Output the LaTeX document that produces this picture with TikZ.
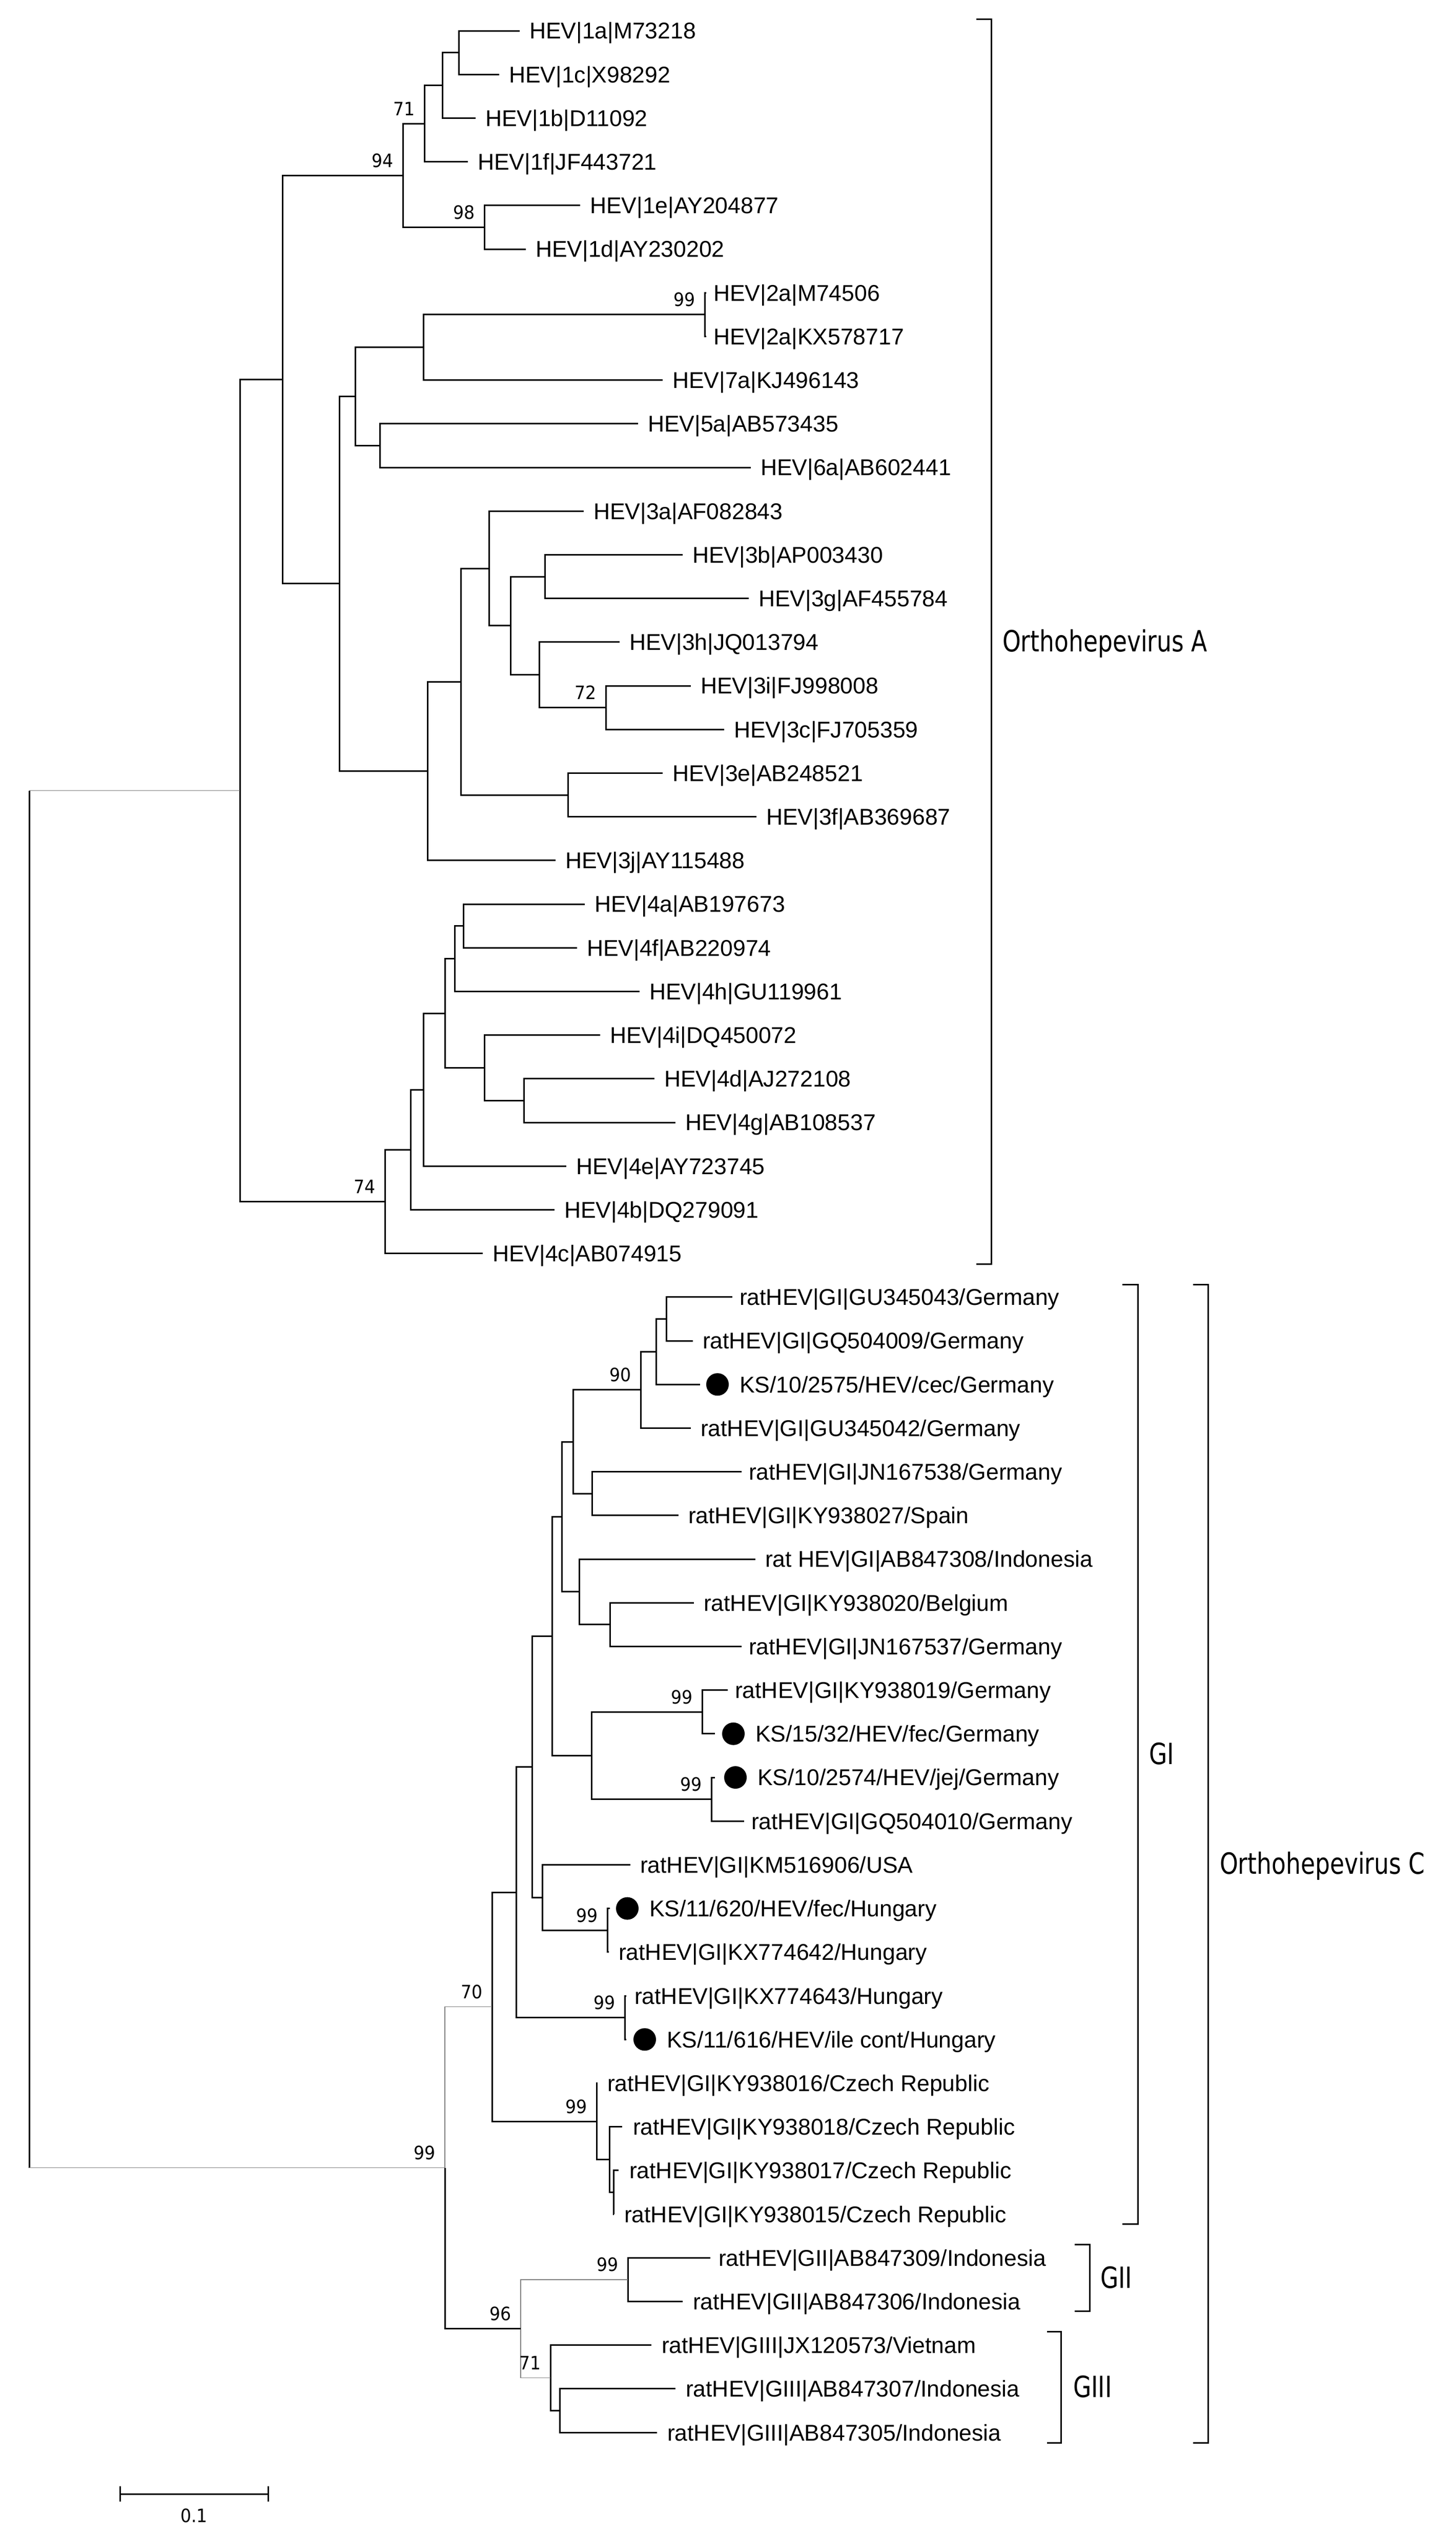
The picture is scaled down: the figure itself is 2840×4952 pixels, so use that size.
\documentclass[tikz,border=0pt]{standalone}
\usepackage{fontspec}
\setmainfont{Liberation Sans}
\newfontfamily\grpfont{DejaVu Sans}[FakeStretch=0.8]
\newfontfamily\bootfont{DejaVu Sans}[FakeStretch=0.92]
\usetikzlibrary{calc,positioning}

% one clade: name, x of the node, upper child, lower child
\newcommand{\clade}[4]{%
  \coordinate (#1mid) at ($(#3)!.5!(#4)$);
  \coordinate (#1) at (#2,0 |- #1mid);
  \draw[treebranch] (#3) -| (#1) |- (#4);}

\begin{document}
\begin{tikzpicture}[x=0.1pt,y=-0.1pt,
    treebranch/.style={line width=0.3pt,black},
    greybranch/.style={line width=0.16pt,black!50},
    leaf/.style={inner sep=0pt,font=\fontsize{4.45}{5}\selectfont,text height=3.19pt,text depth=0pt},
    sampledot/.style={circle,fill=black,inner sep=0pt,minimum size=4.4pt},
    bootlabel/.style={anchor=south east,inner sep=0pt,font=\bootfont\fontsize{3.6}{4}\selectfont,text height=2.62pt,text depth=0pt},
    grouplabel/.style={anchor=west,inner sep=0pt,font=\grpfont\fontsize{5.7}{6}\selectfont,text height=4.16pt,text depth=0pt}]
    \fill[white] (0,0) rectangle (2840,4952);
    \useasboundingbox (0,0) rectangle (2840,4952);

    % Orthohepevirus A tips
    \coordinate (tM73218) at (1014,60);
    \coordinate (tX98292) at (974,145.2);
    \coordinate (tD11092) at (928,230.4);
    \coordinate (tJF443721) at (913,315.6);
    \coordinate (tAY204877) at (1132,400.8);
    \coordinate (tAY230202) at (1026,486);
    \coordinate (tM74506) at (1378,571.2);
    \coordinate (tKX578717) at (1378,656.4);
    \coordinate (tKJ496143) at (1293,741.6);
    \coordinate (tAB573435) at (1245,826.8);
    \coordinate (tAB602441) at (1465,912);
    \coordinate (tAF082843) at (1139,997.2);
    \coordinate (tAP003430) at (1332,1082.4);
    \coordinate (tAF455784) at (1461,1167.6);
    \coordinate (tJQ013794) at (1209,1252.8);
    \coordinate (tFJ998008) at (1348,1338);
    \coordinate (tFJ705359) at (1413,1423.2);
    \coordinate (tAB248521) at (1293,1508.4);
    \coordinate (tAB369687) at (1476,1593.6);
    \coordinate (tAY115488) at (1084,1678.8);
    \coordinate (tAB197673) at (1141,1764);
    \coordinate (tAB220974) at (1126,1849.2);
    \coordinate (tGU119961) at (1248,1934.4);
    \coordinate (tDQ450072) at (1171,2019.6);
    \coordinate (tAJ272108) at (1277,2104.8);
    \coordinate (tAB108537) at (1318,2190);
    \coordinate (tAY723745) at (1105,2275.2);
    \coordinate (tDQ279091) at (1082,2360.4);
    \coordinate (tAB074915) at (942,2445.6);

    % Orthohepevirus C tips
    \coordinate (tGU345043) at (1429,2530.8);
    \coordinate (tGQ504009) at (1352,2616);
    \coordinate (tKS2575) at (1366,2701.2);
    \coordinate (tGU345042) at (1348,2786.4);
    \coordinate (tJN167538) at (1447,2871.6);
    \coordinate (tKY938027) at (1324,2956.8);
    \coordinate (tAB847308) at (1474,3042);
    \coordinate (tKY938020) at (1354,3127.2);
    \coordinate (tJN167537) at (1447,3212.4);
    \coordinate (tKY938019) at (1420,3297.6);
    \coordinate (tKS1532) at (1395,3382.8);
    \coordinate (tKS2574) at (1395,3468);
    \coordinate (tGQ504010) at (1452,3553.2);
    \coordinate (tKM516906) at (1230,3638.4);
    \coordinate (tKS620) at (1190,3723.6);
    \coordinate (tKX774642) at (1188,3808.8);
    \coordinate (tKX774643) at (1222,3894);
    \coordinate (tKS616) at (1222,3979.2);
    \coordinate (tKY938016) at (1166,4064.4);
    \coordinate (tKY938018) at (1214,4149.6);
    \coordinate (tKY938017) at (1207,4234.8);
    \coordinate (tKY938015) at (1198,4320);
    \coordinate (tAB847309) at (1386,4405.2);
    \coordinate (tAB847306) at (1332,4490.4);
    \coordinate (tJX120573) at (1271,4575.6);
    \coordinate (tAB847307) at (1318,4660.8);
    \coordinate (tAB847305) at (1282,4746);

    % Labels
    \node (M73218) [leaf,right=1.7pt of tM73218] {HEV|1a|M73218};
    \node (X98292) [leaf,right=1.7pt of tX98292] {HEV|1c|X98292};
    \node (D11092) [leaf,right=1.7pt of tD11092] {HEV|1b|D11092};
    \node (JF443721) [leaf,right=1.7pt of tJF443721] {HEV|1f|JF443721};
    \node (AY204877) [leaf,right=1.7pt of tAY204877] {HEV|1e|AY204877};
    \node (AY230202) [leaf,right=1.7pt of tAY230202] {HEV|1d|AY230202};
    \node (M74506) [leaf,right=1.2pt of tM74506] {HEV|2a|M74506};
    \node (KX578717) [leaf,right=1.2pt of tKX578717] {HEV|2a|KX578717};
    \node (KJ496143) [leaf,right=1.7pt of tKJ496143] {HEV|7a|KJ496143};
    \node (AB573435) [leaf,right=1.7pt of tAB573435] {HEV|5a|AB573435};
    \node (AB602441) [leaf,right=1.7pt of tAB602441] {HEV|6a|AB602441};
    \node (AF082843) [leaf,right=1.7pt of tAF082843] {HEV|3a|AF082843};
    \node (AP003430) [leaf,right=1.7pt of tAP003430] {HEV|3b|AP003430};
    \node (AF455784) [leaf,right=1.7pt of tAF455784] {HEV|3g|AF455784};
    \node (JQ013794) [leaf,right=1.7pt of tJQ013794] {HEV|3h|JQ013794};
    \node (FJ998008) [leaf,right=1.7pt of tFJ998008] {HEV|3i|FJ998008};
    \node (FJ705359) [leaf,right=1.7pt of tFJ705359] {HEV|3c|FJ705359};
    \node (AB248521) [leaf,right=1.7pt of tAB248521] {HEV|3e|AB248521};
    \node (AB369687) [leaf,right=1.7pt of tAB369687] {HEV|3f|AB369687};
    \node (AY115488) [leaf,right=1.7pt of tAY115488] {HEV|3j|AY115488};
    \node (AB197673) [leaf,right=1.7pt of tAB197673] {HEV|4a|AB197673};
    \node (AB220974) [leaf,right=1.7pt of tAB220974] {HEV|4f|AB220974};
    \node (GU119961) [leaf,right=1.7pt of tGU119961] {HEV|4h|GU119961};
    \node (DQ450072) [leaf,right=1.7pt of tDQ450072] {HEV|4i|DQ450072};
    \node (AJ272108) [leaf,right=1.7pt of tAJ272108] {HEV|4d|AJ272108};
    \node (AB108537) [leaf,right=1.7pt of tAB108537] {HEV|4g|AB108537};
    \node (AY723745) [leaf,right=1.7pt of tAY723745] {HEV|4e|AY723745};
    \node (DQ279091) [leaf,right=1.7pt of tDQ279091] {HEV|4b|DQ279091};
    \node (AB074915) [leaf,right=1.7pt of tAB074915] {HEV|4c|AB074915};

    \node (GU345043) [leaf,right=1.2pt of tGU345043] {ratHEV|GI|GU345043/Germany};
    \node (GQ504009) [leaf,right=1.7pt of tGQ504009] {ratHEV|GI|GQ504009/Germany};
    \node (dKS2575) [sampledot,right=1pt of tKS2575] {};
    \node (KS2575) [leaf,right=1.7pt of dKS2575] {KS/10/2575/HEV/cec/Germany};
    \node (GU345042) [leaf,right=1.7pt of tGU345042] {ratHEV|GI|GU345042/Germany};
    \node (JN167538) [leaf,right=1.2pt of tJN167538] {ratHEV|GI|JN167538/Germany};
    \node (KY938027) [leaf,right=1.7pt of tKY938027] {ratHEV|GI|KY938027/Spain};
    \node (AB847308) [leaf,right=1.7pt of tAB847308] {rat HEV|GI|AB847308/Indonesia};
    \node (KY938020) [leaf,right=1.7pt of tKY938020] {ratHEV|GI|KY938020/Belgium};
    \node (JN167537) [leaf,right=1.2pt of tJN167537] {ratHEV|GI|JN167537/Germany};
    \node (KY938019) [leaf,right=1.2pt of tKY938019] {ratHEV|GI|KY938019/Germany};
    \node (dKS1532) [sampledot,right=1.2pt of tKS1532] {};
    \node (KS1532) [leaf,right=1.7pt of dKS1532] {KS/15/32/HEV/fec/Germany};
    \node (dKS2574) [sampledot,right=1.6pt of tKS2574] {};
    \node (KS2574) [leaf,right=1.7pt of dKS2574] {KS/10/2574/HEV/jej/Germany};
    \node (GQ504010) [leaf,right=1.2pt of tGQ504010] {ratHEV|GI|GQ504010/Germany};
    \node (KM516906) [leaf,right=1.7pt of tKM516906] {ratHEV|GI|KM516906/USA};
    \node (dKS620) [sampledot,right=1pt of tKS620] {};
    \node (KS620) [leaf,right=1.7pt of dKS620] {KS/11/620/HEV/fec/Hungary};
    \node (KX774642) [leaf,right=1.7pt of tKX774642] {ratHEV|GI|KX774642/Hungary};
    \node (KX774643) [leaf,right=1.4pt of tKX774643] {ratHEV|GI|KX774643/Hungary};
    \node (dKS616) [sampledot,right=1.2pt of tKS616] {};
    \node (KS616) [leaf,right=1.7pt of dKS616] {KS/11/616/HEV/ile cont/Hungary};
    \node (KY938016) [leaf,right=1.7pt of tKY938016] {ratHEV|GI|KY938016/Czech Republic};
    \node (KY938018) [leaf,right=1.9pt of tKY938018] {ratHEV|GI|KY938018/Czech Republic};
    \node (KY938017) [leaf,right=1.9pt of tKY938017] {ratHEV|GI|KY938017/Czech Republic};
    \node (KY938015) [leaf,right=1.8pt of tKY938015] {ratHEV|GI|KY938015/Czech Republic};
    \node (AB847309) [leaf,right=1.4pt of tAB847309] {ratHEV|GII|AB847309/Indonesia};
    \node (AB847306) [leaf,right=1.8pt of tAB847306] {ratHEV|GII|AB847306/Indonesia};
    \node (JX120573) [leaf,right=1.8pt of tJX120573] {ratHEV|GIII|JX120573/Vietnam};
    \node (AB847307) [leaf,right=1.8pt of tAB847307] {ratHEV|GIII|AB847307/Indonesia};
    \node (AB847305) [leaf,right=1.8pt of tAB847305] {ratHEV|GIII|AB847305/Indonesia};

    % Clades of A
    \clade{n1aa}{895}{tM73218}{tX98292}
    \clade{n1ab}{863}{n1aa}{tD11092}
    \clade{n71}{828}{n1ab}{tJF443721}
    \clade{n98}{945}{tAY204877}{tAY230202}
    \clade{n94}{786}{n71}{n98}
    \clade{n2a}{1375}{tM74506}{tKX578717}
    \clade{n27}{826}{n2a}{tKJ496143}
    \clade{n56}{741}{tAB573435}{tAB602441}
    \clade{n2756}{693}{n27}{n56}
    \clade{n3bg}{1063}{tAP003430}{tAF455784}
    \clade{n72}{1182}{tFJ998008}{tFJ705359}
    \clade{n3hic}{1052}{tJQ013794}{n72}
    \clade{n3bh}{996}{n3bg}{n3hic}
    \clade{n3a}{954}{tAF082843}{n3bh}
    \clade{n3ef}{1108}{tAB248521}{tAB369687}
    \clade{n3ae}{899}{n3a}{n3ef}
    \clade{n3}{834}{n3ae}{tAY115488}
    \clade{n23}{662}{n2756}{n3}
    \clade{nU}{551}{n94}{n23}
    \clade{n4af}{904}{tAB197673}{tAB220974}
    \clade{n4ah}{887}{n4af}{tGU119961}
    \clade{n4dg}{1022}{tAJ272108}{tAB108537}
    \clade{n4id}{945}{tDQ450072}{n4dg}
    \clade{n4x}{868}{n4ah}{n4id}
    \clade{n4xe}{826}{n4x}{tAY723745}
    \clade{n4xb}{801}{n4xe}{tDQ279091}
    \clade{n74}{751}{n4xb}{tAB074915}
    \clade{nA}{468}{nU}{n74}

    % Clades of C
    \clade{nc1}{1300}{tGU345043}{tGQ504009}
    \clade{nc2}{1280}{nc1}{tKS2575}
    \clade{n90}{1250}{nc2}{tGU345042}
    \clade{nc3}{1155}{tJN167538}{tKY938027}
    \clade{nc4}{1118}{n90}{nc3}
    \clade{nc5}{1190}{tKY938020}{tJN167537}
    \clade{nc6}{1130}{tAB847308}{nc5}
    \clade{nc7}{1096}{nc4}{nc6}
    \clade{n99a}{1370}{tKY938019}{tKS1532}
    \clade{n99b}{1388}{tKS2574}{tGQ504010}
    \clade{nc8}{1154}{n99a}{n99b}
    \clade{nc9}{1077}{nc7}{nc8}
    \clade{n99c}{1185}{tKS620}{tKX774642}
    \clade{nc10}{1058}{tKM516906}{n99c}
    \clade{nc11}{1038}{nc9}{nc10}
    \clade{n99d}{1219}{tKX774643}{tKS616}
    \clade{nc12}{1007}{nc11}{n99d}
    \clade{nc13}{1197}{tKY938017}{tKY938015}
    \clade{nc14}{1189}{tKY938018}{nc13}
    \clade{n99e}{1164}{tKY938016}{nc14}
    \clade{n70}{960}{nc12}{n99e}
    \clade{n99g}{1225}{tAB847309}{tAB847306}
    \clade{nc15}{1092}{tAB847307}{tAB847305}
    \clade{n71b}{1074}{tJX120573}{nc15}

    % grey branches near the root
    \coordinate (n96mid) at ($(n99g)!.5!(n71b)$);
    \coordinate (n96) at (1016,0 |- n96mid);
    \draw[greybranch] (n99g) -| (n96) |- (n71b);
    \coordinate (nCmid) at ($(n70)!.5!(n96)$);
    \coordinate (nC) at (868,0 |- nCmid);
    \draw[greybranch] (n70) -| (nC);
    \draw[treebranch] (nC) |- (n96);
    \coordinate (rootmid) at ($(nA)!.5!(nC)$);
    \coordinate (root) at (57,0 |- rootmid);
    \draw[greybranch] (nA) -- (root |- nA);
    \draw[treebranch] (root |- nA) -- (root |- nC);
    \draw[greybranch] (root |- nC) -- (nC);

    % Bootstrap values
    \node (b94) [bootlabel] at ([xshift=-1.6pt,yshift=1.4pt]n94) {94};
    \node (b71) [bootlabel] at ([xshift=-1.6pt,yshift=1.4pt]n71) {71};
    \node (b98) [bootlabel] at ([xshift=-1.6pt,yshift=1.4pt]n98) {98};
    \node (b2a) [bootlabel] at ([xshift=-1.6pt,yshift=1.4pt]n2a) {99};
    \node (b72) [bootlabel] at ([xshift=-1.6pt,yshift=1.4pt]n72) {72};
    \node (b74) [bootlabel] at ([xshift=-1.6pt,yshift=1.4pt]n74) {74};
    \node (b90) [bootlabel] at ([xshift=-1.6pt,yshift=1.4pt]n90) {90};
    \node (b99a) [bootlabel] at ([xshift=-1.6pt,yshift=1.4pt]n99a) {99};
    \node (b99b) [bootlabel] at ([xshift=-1.6pt,yshift=1.4pt]n99b) {99};
    \node (b99c) [bootlabel] at ([xshift=-1.6pt,yshift=1.4pt]n99c) {99};
    \node (b99d) [bootlabel] at ([xshift=-1.6pt,yshift=1.4pt]n99d) {99};
    \node (b99e) [bootlabel] at ([xshift=-1.6pt,yshift=1.4pt]n99e) {99};
    \node (b70) [bootlabel] at ([xshift=-1.6pt,yshift=1.4pt]n70) {70};
    \node (bC) [bootlabel] at ([xshift=-1.6pt,yshift=1.4pt]nC) {99};
    \node (b96) [bootlabel] at ([xshift=-1.6pt,yshift=1.4pt]n96) {96};
    \node (b99g) [bootlabel] at ([xshift=-1.6pt,yshift=1.4pt]n99g) {99};
    \node (b71b) [bootlabel] at ([xshift=-1.6pt,yshift=1.4pt]n71b) {71};

    % Brackets
    \draw[treebranch] (1905,37) -| (1934,2466) -- (1905,2466);
    \draw[treebranch] (2190,2506) -| (2220,4339) -- (2190,4339);
    \draw[treebranch] (2097,4379) -| (2126,4509) -- (2097,4509);
    \draw[treebranch] (2043,4549) -| (2070,4766) -- (2043,4766);
    \draw[treebranch] (2328,2506) -| (2357,4766) -- (2328,4766);
    \node (orthoA) [grouplabel] at (1954,1251) {Orthohepevirus A};
    \node (gI) [grouplabel] at (2240,3422) {GI};
    \node (orthoC) [grouplabel] at (2378,3636) {Orthohepevirus C};
    \node (gII) [grouplabel] at (2145,4444) {GII};
    \node (gIII) [grouplabel] at (2092,4657) {GIII};

    % Scale bar
    \coordinate (sbl) at (234,4866);
    \coordinate (sbr) at (523,4866);
    \draw[treebranch] (sbl) -- (sbr);
    \draw[treebranch] ([yshift=1.5pt]sbl) -- ([yshift=-1.5pt]sbl);
    \draw[treebranch] ([yshift=1.5pt]sbr) -- ([yshift=-1.5pt]sbr);
    \node (sbtext) [inner sep=0pt,font=\bootfont\fontsize{3.6}{4}\selectfont,text height=2.62pt,text depth=0pt] at ($(sbl)!.5!(sbr)+(0,42)$) {0.1};
\end{tikzpicture}
\end{document}
